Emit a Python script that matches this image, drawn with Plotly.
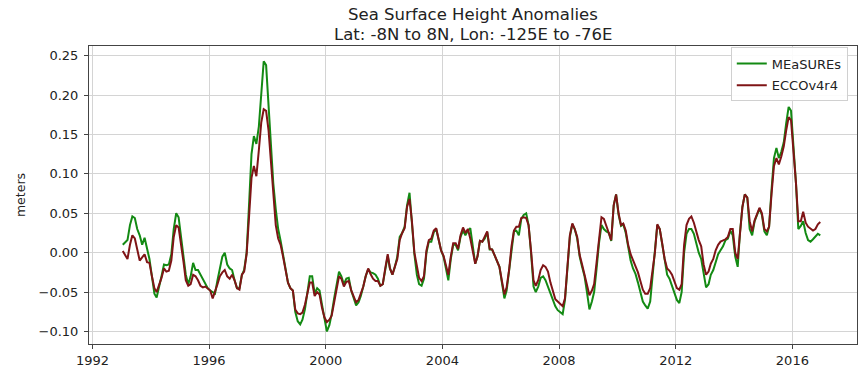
import pandas as pd
import plotly.graph_objects as go

# Monthly values, Jan 1993 .. Dec 2016 (meters)
measures = [
    0.010, 0.013, 0.016, 0.035, 0.046, 0.044, 0.030, 0.022, 0.010, 0.019, 0.005, -0.008,
    -0.030, -0.052, -0.057, -0.045, -0.030, -0.015, -0.016, -0.015, -0.002, 0.030, 0.050, 0.045,
    0.020, -0.005, -0.028, -0.040, -0.030, -0.013, -0.022, -0.022, -0.028, -0.033, -0.038, -0.045,
    -0.048, -0.050, -0.052, -0.035, -0.020, -0.005, 0.000, -0.015, -0.020, -0.022, -0.035, -0.045,
    -0.045, -0.028, -0.022, 0.000, 0.060, 0.125, 0.148, 0.138, 0.160, 0.205, 0.243, 0.238,
    0.190, 0.130, 0.088, 0.055, 0.030, 0.015, -0.003, -0.022, -0.038, -0.045, -0.048, -0.075,
    -0.087, -0.091, -0.085, -0.072, -0.048, -0.030, -0.030, -0.052, -0.045, -0.048, -0.066, -0.085,
    -0.100, -0.092, -0.078, -0.058, -0.040, -0.024, -0.030, -0.040, -0.033, -0.032, -0.048, -0.057,
    -0.067, -0.063, -0.055, -0.043, -0.030, -0.021, -0.025, -0.026, -0.028, -0.033, -0.042, -0.040,
    -0.022, -0.004, -0.020, -0.028, -0.018, -0.005, 0.020, 0.025, 0.033, 0.060, 0.076, 0.038,
    -0.002, -0.028, -0.040, -0.042, -0.033, 0.000, 0.014, 0.014, 0.026, 0.030, 0.018, 0.003,
    -0.005, -0.022, -0.035, -0.008, 0.010, 0.010, 0.003, 0.020, 0.028, 0.022, 0.028, 0.031,
    0.005, -0.014, -0.005, 0.015, 0.014, 0.018, 0.026, 0.004, 0.004, -0.003, -0.010, -0.018,
    -0.038, -0.058, -0.048, -0.022, 0.008, 0.027, 0.028, 0.022, 0.043, 0.048, 0.050, 0.035,
    0.000, -0.043, -0.050, -0.043, -0.032, -0.030, -0.035, -0.043, -0.052, -0.060, -0.068, -0.073,
    -0.076, -0.078, -0.060, -0.020, 0.020, 0.036, 0.030, 0.018, -0.005, -0.018, -0.030, -0.050,
    -0.072, -0.062, -0.050, -0.020, 0.012, 0.035, 0.030, 0.027, 0.025, 0.015, 0.060, 0.074,
    0.048, 0.034, 0.036, 0.025, 0.008, -0.010, -0.020, -0.027, -0.038, -0.050, -0.062, -0.067,
    -0.071, -0.062, -0.030, 0.000, 0.035, 0.030, 0.010, -0.010, -0.028, -0.033, -0.043, -0.052,
    -0.060, -0.064, -0.050, 0.000, 0.024, 0.030, 0.030, 0.024, 0.010, 0.000, -0.008, -0.025,
    -0.044, -0.040, -0.028, -0.022, -0.012, -0.002, 0.003, 0.008, 0.016, 0.018, 0.028, 0.022,
    -0.005, -0.018, 0.025, 0.058, 0.074, 0.070, 0.030, 0.022, 0.040, 0.048, 0.056, 0.048,
    0.027, 0.022, 0.033, 0.080, 0.120, 0.133, 0.120, 0.128, 0.140, 0.164, 0.185, 0.180,
    0.135, 0.088, 0.030, 0.034, 0.040, 0.025, 0.016, 0.014, 0.017, 0.020, 0.024, 0.022,
]
ecco = [
    0.002, -0.003, -0.008, 0.010, 0.022, 0.018, 0.005, -0.010, -0.006, -0.002, -0.012, -0.013,
    -0.030, -0.045, -0.050, -0.042, -0.032, -0.020, -0.024, -0.023, -0.010, 0.020, 0.035, 0.032,
    0.012, -0.012, -0.035, -0.042, -0.040, -0.028, -0.030, -0.035, -0.042, -0.044, -0.043, -0.045,
    -0.048, -0.058, -0.050, -0.040, -0.030, -0.025, -0.022, -0.030, -0.033, -0.028, -0.035, -0.045,
    -0.047, -0.028, -0.024, -0.002, 0.045, 0.095, 0.110, 0.097, 0.130, 0.165, 0.182, 0.180,
    0.155, 0.110, 0.071, 0.035, 0.018, 0.010, -0.005, -0.022, -0.038, -0.045, -0.048, -0.072,
    -0.077, -0.078, -0.076, -0.066, -0.052, -0.038, -0.038, -0.055, -0.050, -0.053, -0.070, -0.082,
    -0.088, -0.085, -0.080, -0.063, -0.046, -0.030, -0.033, -0.043, -0.037, -0.036, -0.048, -0.055,
    -0.063, -0.060, -0.053, -0.043, -0.030, -0.020, -0.027, -0.033, -0.036, -0.036, -0.042, -0.040,
    -0.020, -0.002, -0.020, -0.028, -0.018, -0.008, 0.016, 0.025, 0.031, 0.058, 0.068, 0.040,
    0.000, -0.020, -0.032, -0.036, -0.030, 0.003, 0.016, 0.018, 0.028, 0.031, 0.018, 0.003,
    -0.004, -0.018, -0.028, -0.005, 0.012, 0.012, 0.005, 0.022, 0.032, 0.025, 0.030, 0.018,
    0.002, -0.014, -0.005, 0.015, 0.014, 0.020, 0.027, 0.005, 0.004, -0.003, -0.010, -0.018,
    -0.036, -0.053, -0.044, -0.022, 0.008, 0.028, 0.033, 0.033, 0.044, 0.045, 0.044, 0.035,
    0.002, -0.035, -0.042, -0.035, -0.022, -0.016, -0.018, -0.024, -0.038, -0.050, -0.059, -0.062,
    -0.065, -0.068, -0.058, -0.020, 0.022, 0.037, 0.030, 0.020, -0.003, -0.015, -0.028, -0.042,
    -0.054, -0.048, -0.040, -0.012, 0.018, 0.045, 0.043, 0.035, 0.025, 0.016, 0.060, 0.074,
    0.050, 0.035, 0.037, 0.028, 0.010, -0.002, -0.010, -0.016, -0.025, -0.036, -0.047, -0.052,
    -0.052, -0.045, -0.022, 0.000, 0.036, 0.030, 0.012, -0.008, -0.020, -0.023, -0.028, -0.037,
    -0.045, -0.047, -0.040, 0.010, 0.035, 0.043, 0.046, 0.038, 0.025, 0.016, 0.008, -0.015,
    -0.028, -0.024, -0.014, -0.008, 0.003, 0.010, 0.014, 0.015, 0.017, 0.020, 0.030, 0.030,
    0.000, -0.008, 0.028, 0.058, 0.074, 0.070, 0.040, 0.027, 0.041, 0.049, 0.057, 0.050,
    0.030, 0.027, 0.033, 0.075, 0.110, 0.120, 0.112, 0.122, 0.135, 0.155, 0.172, 0.168,
    0.130, 0.088, 0.040, 0.040, 0.052, 0.038, 0.033, 0.030, 0.028, 0.030, 0.036, 0.039,
]

title_lines = ["Sea Surface Height Anomalies", "Lat: -8N to 8N, Lon: -125E to -76E"]
dates = pd.date_range("1993-01-01", periods=len(ecco), freq="MS") + pd.Timedelta(days=14)
year_ticks = [str(y) for y in range(1992, 2020, 4)]
y_ticks = [-0.10, -0.05, 0.00, 0.05, 0.10, 0.15, 0.20, 0.25]

fig = go.Figure()
fig.add_trace(go.Scatter(x=dates, y=measures, mode="lines", name="MEaSUREs",
                         legendgroup="a", line=dict(color="#138a13", width=2)))
fig.add_trace(go.Scatter(x=dates, y=ecco, mode="lines", name="ECCOv4r4",
                         legendgroup="b", line=dict(color="#7f1416", width=2)))

font = "DejaVu Sans, sans-serif"
fig.update_layout(
    width=864, height=368,
    margin=dict(l=89, r=7, t=46, b=24, autoexpand=False),
    paper_bgcolor="white", plot_bgcolor="white",
    font=dict(family=font, size=12, color="#222"),
    showlegend=True,
    legend=dict(x=0.988, y=0.995, xanchor="right", yanchor="top",
                bgcolor="rgba(255,255,255,0.9)", bordercolor="#d0d0d0", borderwidth=1,
                font=dict(family=font, size=13, color="#222"),
                tracegroupgap=2, itemwidth=30),
)
# two title lines placed by their top edge (pixels from the top of the figure)
for text, py in zip(title_lines, [4, 24]):
    fig.add_annotation(text=text, xref="paper", yref="paper", x=0.5,
                       y=1 + (46 - py) / 298, xanchor="center", yanchor="top",
                       showarrow=False, borderpad=0,
                       font=dict(family=font, size=16.5, color="#222"))
fig.update_xaxes(
    type="date", automargin=False,
    range=["1991-11-19", "2018-03-20"],
    tickvals=[f"{y}-01-01" for y in year_ticks], ticktext=year_ticks,
    showgrid=True, gridcolor="#d4d4d4", gridwidth=1.2,
    showline=True, mirror=True, linecolor="#444", linewidth=1,
    ticks="outside", ticklen=4, tickcolor="#444", zeroline=False,
    tickfont=dict(family=font, size=13, color="#222"),
)
fig.update_yaxes(
    automargin=False,
    range=[-0.1159, 0.2623],
    tickvals=y_ticks, tickformat=".2f",
    showgrid=True, gridcolor="#d4d4d4", gridwidth=1.2,
    showline=True, mirror=True, linecolor="#444", linewidth=1,
    ticks="outside", ticklen=4, tickcolor="#444", zeroline=False,
    ticklabelstandoff=3,
    tickfont=dict(family=font, size=13, color="#222"),
    title=dict(text="meters", standoff=10, font=dict(family=font, size=12.5, color="#222")),
)

# remove the browser's default page margin so the figure sits at the window's corner
fig.write_html("out.html", config={"displayModeBar": False},
               post_script="document.body.style.margin='0';")
